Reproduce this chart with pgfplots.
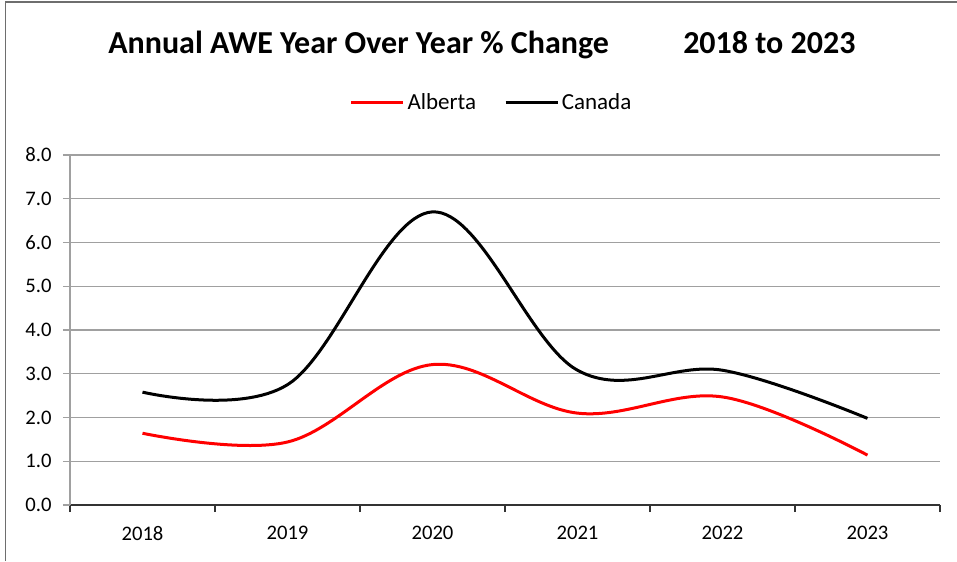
\documentclass[border=0pt]{standalone}
\usepackage{pgfplots}
\pgfplotsset{compat=1.18}
\usepackage{fontspec}
\setmainfont{Carlito}
\definecolor{gridgray}{RGB}{160,160,160}
\definecolor{framegray}{RGB}{110,110,110}
\begin{document}
\begin{tikzpicture}[x=0.75pt,y=0.75pt]
\path[use as bounding box] (0,0) rectangle (957,561);
\draw[framegray,line width=1.2pt] (5.5,0) -- (5.5,559) -- (957,559);
\node[anchor=base west,inner sep=0,font=\fontsize{24}{27}\selectfont\bfseries] at (108,507) {Annual AWE Year Over Year \% Change};
\node[anchor=base west,inner sep=0,font=\fontsize{24}{27}\selectfont\bfseries] at (683,507) {2018 to 2023};
\begin{axis}[
  at={(52.5pt,42pt)}, anchor=south west,
  scale only axis, width=652.5pt, height=262.5pt,
  xmin=-0.5, xmax=5.5, ymin=0, ymax=8,
  xtick={0,...,5},
  xticklabels={2018,2019,2020,2021,2022,2023},
  minor xtick={-0.5,0.5,...,5.5},
  ytick={0,...,8},
  axis x line*=bottom, axis y line*=left,
  x axis line style={black!80,line width=0.9pt},
  y axis line style={gridgray,line width=0.9pt},
  ymajorgrids, grid style={gridgray,line width=0.9pt},
  tick align=outside,
  major tick length=5.25pt, minor tick length=5.25pt,
  x tick style={black!80,line width=0.9pt},
  y tick style={gridgray,line width=0.9pt},
  major x tick style={draw=none},
  minor x tick style={black!80,line width=0.9pt},
  tick label style={font=\fontsize{15.5}{18}\selectfont},
  /pgf/number format/assume math mode=true,
  yticklabel={\pgfmathprintnumber[fixed,fixed zerofill,precision=1]{\tick}},
  xticklabel style={yshift=-7pt},
  yticklabel style={xshift=-5pt},
  legend style={at={(0.485,1.1486)}, anchor=center, draw=none, fill=none,
    font=\fontsize{17.25}{20}\selectfont, legend columns=2,
    /tikz/every even column/.append style={column sep=19pt},
    inner sep=0pt},
  legend cell align=left,
  legend image code/.code={\draw[#1] (0pt,0pt) -- (39pt,0pt);},
  clip=false,
]
\addplot[red, line width=2.25pt, smooth, tension=0.6] coordinates {
 (0,1.64) (1,1.44) (2,3.21) (3,2.1) (4,2.47) (5,1.14)};
\addlegendentry{Alberta}
\addplot[black, line width=2.25pt, smooth, tension=0.6] coordinates {
 (0,2.58) (1,2.75) (2,6.7) (3,3.08) (4,3.08) (5,1.98)};
\addlegendentry{Canada}
\end{axis}
\end{tikzpicture}
\end{document}
